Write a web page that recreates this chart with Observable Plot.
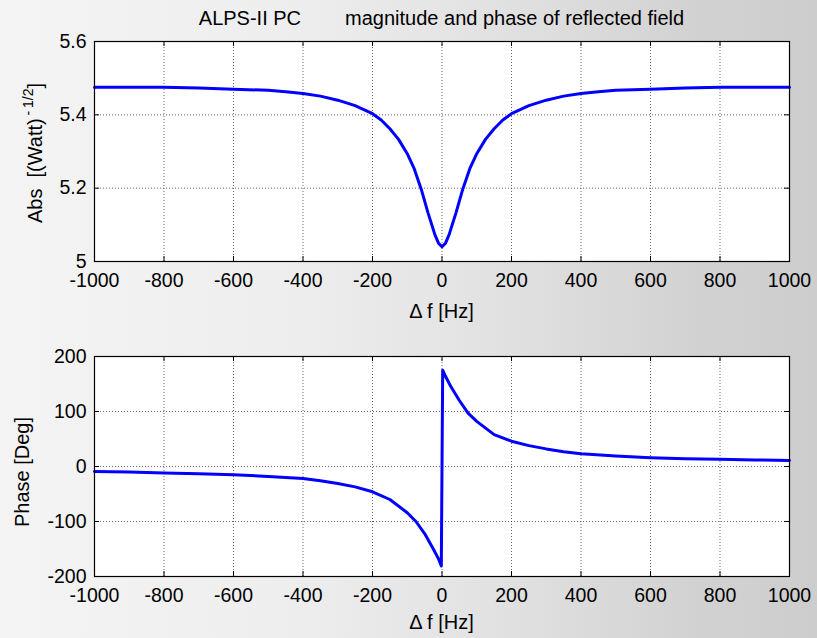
<!DOCTYPE html>
<html>
<head>
<meta charset="utf-8">
<script src="https://cdn.jsdelivr.net/npm/d3@7"></script>
<script src="https://cdn.jsdelivr.net/npm/@observablehq/plot@0.6"></script>
<style>
  html, body { margin: 0; padding: 0; }
  #fig {
    position: relative; width: 817px; height: 638px; overflow: hidden;
    background: linear-gradient(to right, #f4f4f4 0%, #eeeeee 35%, #e2e2e2 60%, #d2d2d2 85%, #cdcdcd 100%);
    font-family: "Liberation Sans", Arial, sans-serif; color: #000;
  }
  .panel { position: absolute; left: 0; }
  .txt { position: absolute; font-size: 20px; line-height: 20px; white-space: pre; }
  .rot { position: absolute; font-size: 20px; line-height: 20px; white-space: nowrap;
         transform: translate(-50%, -50%) rotate(-90deg); }
  sup { font-size: 14px; vertical-align: 9px; line-height: 0; }
</style>
</head>
<body>
<div id="fig">
  <div id="top" class="panel" style="top:0px"></div>
  <div id="bot" class="panel" style="top:330px"></div>
  <div class="txt" style="top:8px; left:94px; width:695px; text-align:center;"><span>ALPS-II PC</span><span style="margin-left:44px">magnitude and phase of reflected field</span></div>
  <div class="txt" style="top:301px; left:94px; width:695px; text-align:center;">Δ f [Hz]</div>
  <div class="txt" style="top:612px; left:94px; width:695px; text-align:center;">Δ f [Hz]</div>
  <div class="rot" style="left:35px; top:153px;">Abs&nbsp;&nbsp;[(Watt)<sup>&#8201;-&#8201;1/2</sup>]</div>
  <div class="rot" style="left:22px; top:472px;">Phase [Deg]</div>
</div>
<script>
// ---- data ----
const xTicks = [-1000, -800, -600, -400, -200, 0, 200, 400, 600, 800, 1000];

const absFreq = [-1000, -900, -800, -700, -600, -500, -450, -400, -350, -300, -250, -200, -175, -150, -125, -100, -80, -60, -40, -20, -10, 0,
                 10, 20, 40, 60, 80, 100, 125, 150, 175, 200, 250, 300, 350, 400, 450, 500, 600, 700, 800, 900, 1000];
const absValues = [5.475, 5.475, 5.475, 5.473, 5.470, 5.467, 5.463, 5.458, 5.451, 5.440, 5.425, 5.403, 5.386, 5.362, 5.333, 5.294, 5.253, 5.198, 5.132, 5.072, 5.050, 5.040,
                   5.050, 5.072, 5.132, 5.198, 5.253, 5.294, 5.333, 5.362, 5.386, 5.403, 5.425, 5.440, 5.451, 5.458, 5.463, 5.467, 5.470, 5.473, 5.475, 5.475, 5.475];
const absTicks = [5, 5.2, 5.4, 5.6];
const absTickLabels = ["5", "5.2", "5.4", "5.6"];

const phaseFreq = [-1000, -900, -800, -700, -600, -500, -400, -350, -300, -250, -200, -150, -100, -75, -50, -25, -10, -2,
                   2, 10, 25, 50, 75, 100, 150, 200, 250, 300, 350, 400, 500, 600, 700, 800, 900, 1000];
const phaseValues = [-9, -10, -12, -13, -15, -18, -22, -26, -31, -37, -46, -60, -84, -100, -122, -150, -168, -181,
                     175, 164, 146, 120, 97, 82, 58, 46, 38, 32, 27, 23, 19, 16, 14, 13, 12, 11];
const phaseTicks = [-200, -100, 0, 100, 200];
const phaseTickLabels = ["-200", "-100", "0", "100", "200"];

// ---- drawing ----
const W = 817, ML = 94, MR = 28, TL = 5;

function panel({freq, vals, yDomain, yTicks, yLabels, height, marginTop, marginBottom}) {
  const data = freq.map((f, i) => ({f, v: vals[i]}));
  const ph = height - marginTop - marginBottom;
  const pw = W - ML - MR;
  const lab = new Map(yTicks.map((t, i) => [t, yLabels[i]]));
  const gridStyle = {stroke: "#444", strokeOpacity: 0.8, strokeWidth: 1, strokeDasharray: "1,2"};
  return Plot.plot({
    width: W, height, marginLeft: ML, marginRight: MR, marginTop, marginBottom,
    style: {background: "transparent", fontFamily: "'Liberation Sans', Arial, sans-serif", color: "black", overflow: "visible"},
    x: {domain: [-1000, 1000]},
    y: {domain: yDomain},
    marks: [
      Plot.frame({fill: "white", stroke: null}),
      Plot.gridX(xTicks, gridStyle),
      Plot.gridY(yTicks, gridStyle),
      Plot.tickX(xTicks, {x: d => d, insetTop: ph - TL, stroke: "black"}),
      Plot.tickX(xTicks, {x: d => d, insetBottom: ph - TL, stroke: "black"}),
      Plot.tickY(yTicks, {y: d => d, insetRight: pw - TL, stroke: "black"}),
      Plot.tickY(yTicks, {y: d => d, insetLeft: pw - TL, stroke: "black"}),
      Plot.line(data, {x: "f", y: "v", stroke: "#0000ff", strokeWidth: 3}),
      Plot.frame({stroke: "black", strokeWidth: 1.2}),
      Plot.axisX(xTicks, {tickSize: 0, tickPadding: 12, fontSize: 19.5, tickFormat: d => String(d), label: null}),
      Plot.axisY(yTicks, {tickSize: 0, tickPadding: 8, fontSize: 19.5, tickFormat: d => lab.get(d), label: null})
    ]
  });
}

document.getElementById("top").appendChild(panel({
  freq: absFreq, vals: absValues, yDomain: [5, 5.6], yTicks: absTicks, yLabels: absTickLabels,
  height: 330, marginTop: 41, marginBottom: 69
}));
document.getElementById("bot").appendChild(panel({
  freq: phaseFreq, vals: phaseValues, yDomain: [-200, 200], yTicks: phaseTicks, yLabels: phaseTickLabels,
  height: 308, marginTop: 26, marginBottom: 62
}));
</script>
</body>
</html>
